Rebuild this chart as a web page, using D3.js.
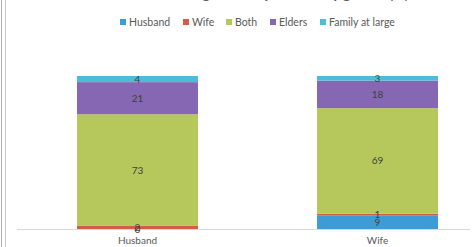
<!DOCTYPE html>
<html lang="en">
    <head>
        <meta charset="utf-8">
        <title>Decision making - stacked bars</title>
        <script src="https://d3js.org/d3.v7.min.js"></script>
        <style>
            body { margin: 0; background: #fff; }
            text { font-family: Lato, "Open Sans", sans-serif; }
        </style>
    </head>
    <body>
        <script type="text/javascript">

            var categories = ["Husband", "Wife"];
            var seriesNames = ["Husband", "Wife", "Both", "Elders", "Family at large"];
            var husbandValues = [0, 2, 73, 21, 4];
            var wifeValues = [9, 1, 69, 18, 3];
            var colors = ["#3d9bd6", "#d45d45", "#b6c85b", "#8667b4", "#4dbdd7"];

            var width = 472, height = 247;
            var axisY = 229, topY = 76;

            var svg = d3.select("body")
                        .append("svg")
                        .attr("width", width)
                        .attr("height", height);

            svg.append("rect").attr("width", width).attr("height", height).attr("fill", "#fff");

            // chart frame (double line on the left)
            svg.append("line").attr("x1", 1.5).attr("x2", 1.5).attr("y1", 0).attr("y2", height)
                .attr("stroke", "#b0b0b0");
            svg.append("line").attr("x1", 5.5).attr("x2", 5.5).attr("y1", 0).attr("y2", height)
                .attr("stroke", "#c8c8c8");

            // title, cut off at the top of the picture
            svg.append("text")
                .attr("x", 258).attr("y", -1)
                .attr("text-anchor", "middle")
                .attr("font-size", 14).attr("font-weight", "bold")
                .attr("fill", "#595959")
                .text("Decision making on family matters by gender (%)");

            var rows = categories.map(function(c, i) {
                var vals = i === 0 ? husbandValues : wifeValues;
                var row = { category: c };
                seriesNames.forEach(function(s, j) { row[s] = vals[j]; });
                return row;
            });

            var stacked = d3.stack().keys(seriesNames)(rows);

            var xScale = d3.scaleBand()
                .domain(categories)
                .range([17, 498])
                .paddingInner(0.496)
                .paddingOuter(0.25);

            var yScale = d3.scaleLinear()
                .domain([0, 100])
                .range([axisY, topY]);

            var colorScale = d3.scaleOrdinal().domain(seriesNames).range(colors);

            var layers = svg.selectAll("g.layer")
                .data(stacked)
                .enter().append("g")
                .attr("class", "layer")
                .attr("fill", function(d) { return colorScale(d.key); });

            layers.selectAll("rect")
                .data(function(d) { return d; })
                .enter().append("rect")
                .attr("x", function(d) { return xScale(d.data.category); })
                .attr("width", xScale.bandwidth())
                .attr("y", function(d) { return yScale(d[1]); })
                .attr("height", function(d) { return yScale(d[0]) - yScale(d[1]); });

            // axis line
            svg.append("line")
                .attr("x1", 17).attr("x2", 470)
                .attr("y1", axisY + 0.5).attr("y2", axisY + 0.5)
                .attr("stroke", "#d9d9d9");

            // data labels
            stacked.forEach(function(layer) {
                layer.forEach(function(d) {
                    svg.append("text")
                        .attr("x", xScale(d.data.category) + xScale.bandwidth() / 2)
                        .attr("y", yScale((d[0] + d[1]) / 2))
                        .attr("dy", "0.35em")
                        .attr("text-anchor", "middle")
                        .attr("font-size", 10)
                        .attr("fill", "#404040")
                        .text(d.data[layer.key]);
                });
            });

            // category labels
            svg.selectAll("text.cat")
                .data(categories)
                .enter().append("text")
                .attr("class", "cat")
                .attr("x", function(d) { return xScale(d) + xScale.bandwidth() / 2; })
                .attr("y", 244)
                .attr("text-anchor", "middle")
                .attr("font-size", 10)
                .attr("fill", "#595959")
                .text(function(d) { return d; });

            // legend
            var legendX = [120, 183, 226, 270, 320];
            var legend = svg.selectAll("g.legend")
                .data(seriesNames)
                .enter().append("g")
                .attr("class", "legend")
                .attr("transform", function(d, i) { return "translate(" + legendX[i] + ",22)"; });

            legend.append("rect")
                .attr("x", 0).attr("y", -3)
                .attr("width", 6).attr("height", 6)
                .attr("fill", function(d) { return colorScale(d); });

            legend.append("text")
                .attr("x", 9).attr("y", 0)
                .attr("dy", "0.35em")
                .attr("font-size", 10.5)
                .attr("fill", "#595959")
                .text(function(d) { return d; });

        </script>
    </body>
</html>
